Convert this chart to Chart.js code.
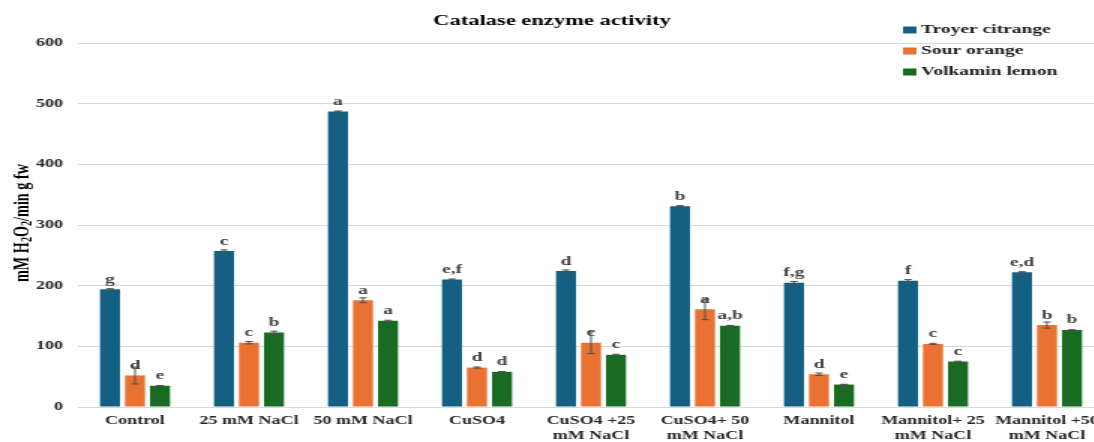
<!DOCTYPE html>
<html>
<head>
<meta charset="utf-8">
<title>Catalase enzyme activity</title>
<script src="https://cdn.jsdelivr.net/npm/chart.js@4.4.1/dist/chart.umd.min.js"></script>
<style>
  html, body { margin: 0; padding: 0; background: #ffffff; overflow: hidden; }
  #wrap { width: 1094px; height: 442px; overflow: hidden; position: relative; }
  #chart { display: block; }
</style>
</head>
<body>
<div id="wrap">
  <!-- laid out on a narrower canvas and widened 1.5x on screen -->
  <canvas id="chart" width="760" height="442" style="width:1140px;height:442px;"></canvas>
</div>
<script>
// Treatments on the x axis (two-line labels as arrays)
const categories = [
  "Control",
  "25 mM NaCl",
  "50 mM NaCl",
  "CuSO4",
  ["CuSO4 +25", "mM NaCl"],
  ["CuSO4+ 50", "mM NaCl"],
  "Mannitol",
  ["Mannitol+ 25", "mM NaCl"],
  ["Mannitol +50", "mM NaCl"]
];

const seriesNames = ["Troyer citrange", "Sour orange", "Volkamin lemon"];

// Catalase activity, mM H2O2/min g fw
const troyerValues   = [194, 257, 487, 210, 224, 331, 205, 208, 222];
const sourValues     = [52, 106, 176, 65, 106, 161, 54, 104, 135];
const volkaminValues = [35, 123, 142, 58, 86, 134, 37, 75, 127];

// Standard errors
const troyerErrors   = [1, 2, 1, 1, 2, 1, 2, 2, 1];
const sourErrors     = [14, 2, 4, 1, 18, 17, 2, 1, 5];
const volkaminErrors = [0.5, 2, 1, 0.5, 1, 0.5, 0.5, 0.5, 0.5];

// Significance letters
const troyerLetters   = ["g", "c", "a", "e,f", "d", "b", "f,g", "f", "e,d"];
const sourLetters     = ["d", "c", "a", "d", "c", "a", "d", "c", "b"];
const volkaminLetters = ["e", "b", "a", "d", "c", "a,b", "e", "c", "b"];

const yTicks = [0, 100, 200, 300, 400, 500, 600];

const seriesColors = ["#156082", "#E97132", "#196B24"];
const SERIF = "'Liberation Serif', 'Times New Roman', serif";

const valueSets  = [troyerValues, sourValues, volkaminValues];
const errorSets  = [troyerErrors, sourErrors, volkaminErrors];
const letterSets = [troyerLetters, sourLetters, volkaminLetters];

// Error bars drawn through the y scale
const errorBarPlugin = {
  id: 'errorBars',
  afterDatasetsDraw(chart) {
    const ctx = chart.ctx;
    const y = chart.scales.y;
    ctx.save();
    ctx.strokeStyle = '#505050';
    ctx.lineWidth = 1;
    chart.data.datasets.forEach((ds, i) => {
      const meta = chart.getDatasetMeta(i);
      meta.data.forEach((bar, j) => {
        const v = ds.data[j];
        const e = errorSets[i][j];
        const top = y.getPixelForValue(v + e);
        const bot = y.getPixelForValue(v - e);
        const cap = 2.5;
        ctx.beginPath();
        ctx.moveTo(bar.x, top); ctx.lineTo(bar.x, bot);
        ctx.moveTo(bar.x - cap, top); ctx.lineTo(bar.x + cap, top);
        ctx.moveTo(bar.x - cap, bot); ctx.lineTo(bar.x + cap, bot);
        ctx.stroke();
      });
    });
    ctx.restore();
  }
};

// Letters above each bar
const letterPlugin = {
  id: 'letters',
  afterDatasetsDraw(chart) {
    const ctx = chart.ctx;
    ctx.save();
    ctx.font = `bold 13px ${SERIF}`;
    ctx.fillStyle = '#404040';
    ctx.textAlign = 'center';
    ctx.textBaseline = 'alphabetic';
    chart.data.datasets.forEach((ds, i) => {
      const meta = chart.getDatasetMeta(i);
      meta.data.forEach((bar, j) => {
        ctx.fillText(letterSets[i][j], bar.x, bar.y - 6.5);
      });
    });
    ctx.restore();
  }
};

// Vertical legend at the top right
const legendPlugin = {
  id: 'sideLegend',
  afterDraw(chart) {
    const ctx = chart.ctx;
    ctx.save();
    ctx.font = `bold 13px ${SERIF}`;
    ctx.textAlign = 'left';
    ctx.textBaseline = 'middle';
    const x0 = 602, y0 = 30, step = 21;
    chart.data.datasets.forEach((ds, i) => {
      const yy = y0 + i * step;
      ctx.fillStyle = ds.backgroundColor;
      ctx.fillRect(x0, yy - 3.5, 9, 7);
      ctx.fillStyle = '#1a1a1a';
      ctx.fillText(ds.label, x0 + 12, yy);
    });
    ctx.restore();
  }
};

// Rotated y axis title with subscripts
const yTitlePlugin = {
  id: 'yTitle',
  afterDraw(chart) {
    const ctx = chart.ctx;
    const parts = [
      ["mM H", 14, 0], ["2", 10, 3.5], ["O", 14, 0], ["2", 10, 3.5], ["/min g fw", 14, 0]
    ];
    ctx.save();
    let total = 0;
    parts.forEach(p => { ctx.font = `bold ${p[1]}px ${SERIF}`; total += ctx.measureText(p[0]).width; });
    const target = 118;
    const k = target / total;
    ctx.translate(15, 223);
    ctx.rotate(-Math.PI / 2);
    ctx.scale(k, 1);
    ctx.fillStyle = '#000000';
    ctx.textBaseline = 'middle';
    ctx.textAlign = 'left';
    let x = -total / 2;
    parts.forEach(p => {
      ctx.font = `bold ${p[1]}px ${SERIF}`;
      ctx.fillText(p[0], x, p[2]);
      x += ctx.measureText(p[0]).width;
    });
    ctx.restore();
  }
};

const datasets = seriesNames.map((name, i) => ({
  label: name,
  data: valueSets[i],
  backgroundColor: seriesColors[i],
  borderWidth: 0,
  categoryPercentage: 0.658,
  barPercentage: 0.8
}));

new Chart(document.getElementById('chart'), {
  type: 'bar',
  data: { labels: categories, datasets },
  plugins: [errorBarPlugin, letterPlugin, legendPlugin, yTitlePlugin],
  options: {
    responsive: false,
    animation: false,
    devicePixelRatio: 1,
    layout: { padding: { left: 0, right: 24, top: 0, bottom: 0 } },
    plugins: {
      legend: { display: false },
      tooltip: { enabled: false },
      title: {
        display: true,
        text: 'Catalase enzyme activity',
        color: '#000000',
        font: { family: SERIF, size: 15, weight: 'bold' },
        padding: { top: 12, bottom: 13 }
      }
    },
    scales: {
      x: {
        grid: { display: false, drawTicks: false },
        border: { display: false },
        ticks: {
          color: '#262626',
          font: { family: SERIF, size: 12, weight: 'bold' },
          padding: 7,
          maxRotation: 0,
          autoSkip: false
        },
        afterFit(scale) { scale.height = 35; }
      },
      y: {
        min: 0,
        max: 600,
        afterBuildTicks(scale) { scale.ticks = yTicks.map(v => ({ value: v })); },
        grid: { color: '#d9d9d9', lineWidth: 1, drawTicks: false },
        border: { display: false },
        ticks: {
          color: '#262626',
          font: { family: SERIF, size: 12, weight: 'bold' },
          padding: 10
        },
        afterFit(scale) { scale.width = 52; }
      }
    }
  }
});
</script>
</body>
</html>
